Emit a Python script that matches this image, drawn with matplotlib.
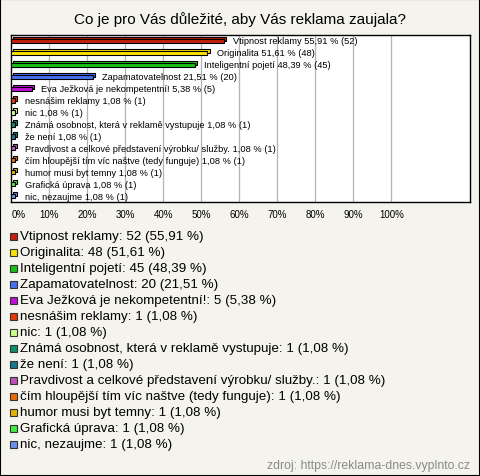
import matplotlib.pyplot as plt
from matplotlib.patches import Rectangle

plt.rcParams['font.family'] = ['Liberation Sans', 'DejaVu Sans']

answers = ['Vtipnost reklamy', 'Originalita', 'Inteligentní pojetí', 'Zapamatovatelnost',
           'Eva Ježková je nekompetentní!', 'nesnášim reklamy', 'nic',
           'Známá osobnost, která v reklamě vystupuje', 'že není',
           'Pravdivost a celkové představení výrobku/ služby.',
           'čím hloupější tím víc naštve (tedy funguje)', 'humor musi byt temny',
           'Grafická úprava', 'nic, nezaujme']
counts = [52, 48, 45, 20, 5, 1, 1, 1, 1, 1, 1, 1, 1, 1]
percents = [55.91, 51.61, 48.39, 21.51, 5.38, 1.08, 1.08, 1.08, 1.08, 1.08, 1.08, 1.08, 1.08, 1.08]
colors = ['#c4200c', '#f8e400', '#18c018', '#4870f0', '#c010d8', '#e83808', '#c8ff88',
          '#10906a', '#187890', '#c050c0', '#e86c08', '#e8b000', '#40ec40', '#6890e8']
ticks = [0, 10, 20, 30, 40, 50, 60, 70, 80, 90, 100]

W, H = 480, 477
bg = '#f4f3ec'
fig = plt.figure(figsize=(W/100, H/100), dpi=100, facecolor=bg)
fig.patches.append(Rectangle((0, 0), 1, 1, transform=fig.transFigure, fill=False,
                             edgecolor='black', linewidth=1.5))

fig.text(0.5, 1 - 20/H, 'Co je pro Vás důležité, aby Vás reklama zaujala?',
         ha='center', va='center', fontsize=11)

ax = fig.add_axes([11.3/W, 1 - 203/H, (470 - 11.3)/W, (203 - 36)/H])
ax.set_facecolor('white')
ax.set_xlim(0, 120.7)
ax.set_ylim(len(answers) - 0.5, -0.5)
for s in ax.spines.values():
    s.set_color('black')
    s.set_linewidth(1)

for t in ticks[1:]:
    ax.axvline(t, color='#b4b4b4', linewidth=0.9, zorder=0)

def fmt(p):
    return f'{p:.2f}'.replace('.', ',')

bh = 0.36
dx, dy = 0.55, 0.17
for i, (name, c, p, col) in enumerate(zip(answers, counts, percents, colors)):
    # back face gives the 3D look
    ax.add_patch(Rectangle((dx, i - bh/2 - dy), p, bh, facecolor=col,
                           edgecolor='black', linewidth=0.8, zorder=2))
    ax.add_patch(Rectangle((0, i - bh/2), p, bh, facecolor=col,
                           edgecolor='black', linewidth=0.8, zorder=3))
    ax.text(p + 2.4, i, f'{name} {fmt(p)} % ({c})', ha='left', va='center',
            fontsize=6.7, zorder=4)

ax.set_yticks([])
ax.set_xticks(ticks)
ax.set_xticklabels([f'{t}%' for t in ticks], fontsize=7)
ax.tick_params(axis='x', length=0, pad=5)
ax.get_xticklabels()[0].set_horizontalalignment('left')

# legend drawn by hand
for i, (name, c, p, col) in enumerate(zip(answers, counts, percents, colors)):
    y = 237.3 + i * 16.0
    fig.patches.append(Rectangle((9.5/W, 1 - (y + 3.5)/H), 7/W, 7/H, transform=fig.transFigure,
                                 facecolor=col, edgecolor='#333333', linewidth=0.8))
    fig.text(20/W, 1 - y/H, f'{name}: {c} ({fmt(p)} %)', ha='left', va='center',
             fontsize=9.6)

fig.text(470/W, 1 - 466/H, 'zdroj: https://reklama-dnes.vyplnto.cz', ha='right', va='center',
         fontsize=8.8, color='#8a8a8a')

fig.savefig('out.png', dpi=100, facecolor=bg)
